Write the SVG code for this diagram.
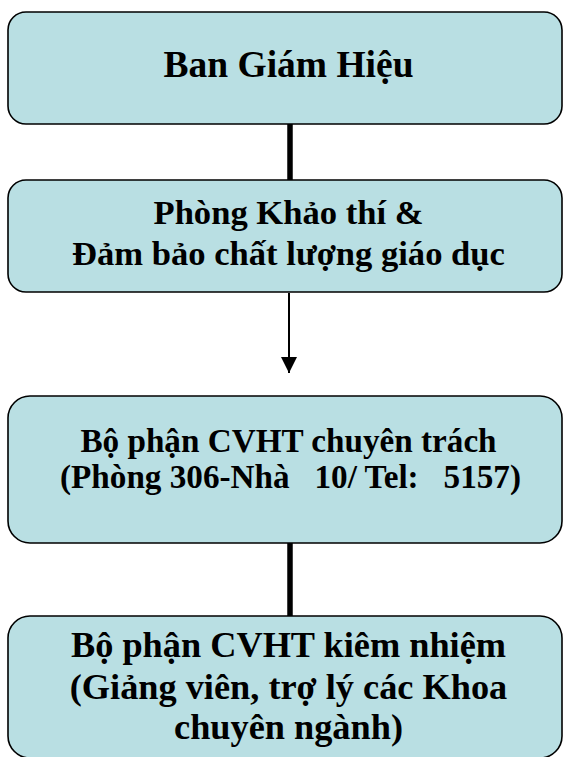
<svg xmlns="http://www.w3.org/2000/svg" width="563" height="757" viewBox="0 0 563 757">
<style>
.box{fill:#b9dfe3;stroke:#000;stroke-width:1.6}
.t{font-family:"Liberation Serif","Times New Roman",serif;font-weight:bold;fill:#000;text-anchor:middle;white-space:pre}
.thick{stroke:#000;stroke-width:5.5;fill:none}
.thin{stroke:#000;stroke-width:2;fill:none}
</style>
<defs>
<marker id="ah" markerUnits="userSpaceOnUse" markerWidth="16" markerHeight="17" refX="16" refY="8" orient="auto">
<path d="M0,0 L16,8 L0,16 Z" fill="#000"/>
</marker>
</defs>
<rect width="563" height="757" fill="#fff"/>
<g id="connectors">
<line class="thick" x1="290" y1="124" x2="290" y2="180"/>
<line class="thin" x1="289" y1="293" x2="289" y2="373" marker-end="url(#ah)"/>
<line class="thick" x1="290" y1="543" x2="290" y2="616"/>
</g>
<g id="ban-giam-hieu">
<rect class="box" x="8" y="12" width="554" height="112" rx="18"/>
<text class="t" x="288.5" y="77" font-size="37.5">Ban Giám Hiệu</text>
</g>
<g id="phong-khao-thi">
<rect class="box" x="8" y="180" width="554" height="112" rx="18"/>
<text class="t" x="288.5" y="224" font-size="34.6">Phòng Khảo thí &amp;</text>
<text class="t" x="288.5" y="265" font-size="34.6">Đảm bảo chất lượng giáo dục</text>
</g>
<g id="cvht-chuyen-trach">
<rect class="box" x="8" y="396" width="554" height="147" rx="22"/>
<text class="t" x="288.5" y="452" font-size="33.2">Bộ phận CVHT chuyên trách</text>
<text class="t" x="290.5" y="488" font-size="33.2" xml:space="preserve">(Phòng 306-Nhà   10/ Tel:   5157)</text>
</g>
<g id="cvht-kiem-nhiem">
<rect class="box" x="8" y="616" width="554" height="142" rx="22"/>
<text class="t" x="288.5" y="657" font-size="36.3">Bộ phận CVHT kiêm nhiệm</text>
<text class="t" x="288.5" y="699" font-size="36.3">(Giảng viên, trợ lý các Khoa</text>
<text class="t" x="288.5" y="739" font-size="36.3">chuyên ngành)</text>
</g>
</svg>
